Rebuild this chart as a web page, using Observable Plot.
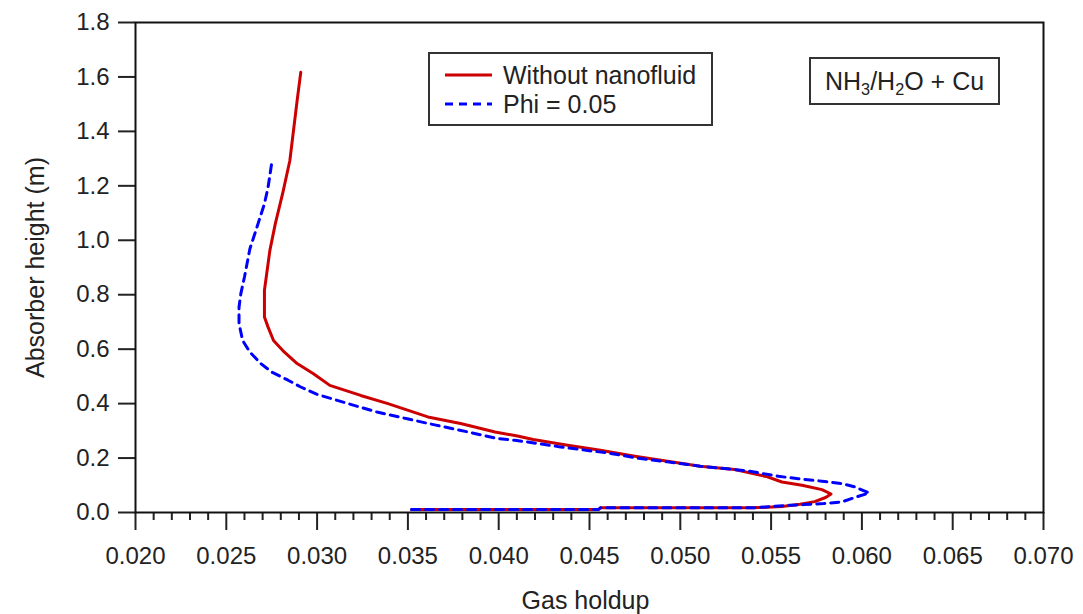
<!DOCTYPE html>
<html>
<head>
<meta charset="utf-8">
<script src="https://cdn.jsdelivr.net/npm/d3@7"></script>
<script src="https://cdn.jsdelivr.net/npm/@observablehq/plot@0.6"></script>
<style>
  html, body { margin: 0; padding: 0; background: #fff; }
  #wrap { position: relative; width: 1083px; height: 614px; font-family: "Liberation Sans", Arial, sans-serif; color: #222; }
  .box { position: absolute; border: 2px solid #333; background: #fff; box-sizing: border-box; }
  .entry { position: absolute; font-size: 25px; line-height: 1; white-space: nowrap; }
  sub { font-size: 65%; vertical-align: -0.3em; line-height: 0; }
</style>
</head>
<body>
<div id="wrap"></div>
<script>
// ---- data ----
const seriesNames = ["Without nanofluid", "Phi = 0.05"];

const redHoldup = [0.0352, 0.0455, 0.0456, 0.0540, 0.0556, 0.0566, 0.0574, 0.0580, 0.0583, 0.0578, 0.0567, 0.0556, 0.0548, 0.0530, 0.0511, 0.0493, 0.0475, 0.0456, 0.0438, 0.0419, 0.0411, 0.0398, 0.0379, 0.0361, 0.0339, 0.0324, 0.0307, 0.0298, 0.0289, 0.0282, 0.0276, 0.0273, 0.0271, 0.0271, 0.0272, 0.0274, 0.0277, 0.0281, 0.0285, 0.0289, 0.0291];
const redHeight = [0.011, 0.011, 0.017, 0.017, 0.022, 0.030, 0.040, 0.055, 0.068, 0.084, 0.100, 0.112, 0.131, 0.158, 0.170, 0.188, 0.207, 0.229, 0.247, 0.268, 0.280, 0.296, 0.327, 0.351, 0.400, 0.430, 0.467, 0.510, 0.547, 0.589, 0.632, 0.681, 0.718, 0.816, 0.865, 0.963, 1.061, 1.171, 1.293, 1.513, 1.617];

const blueHoldup = [0.0352, 0.0455, 0.0456, 0.0540, 0.0561, 0.0568, 0.0579, 0.0589, 0.0597, 0.0604, 0.0596, 0.0589, 0.0578, 0.0565, 0.0554, 0.0537, 0.0511, 0.0493, 0.0478, 0.0460, 0.0451, 0.0434, 0.0416, 0.0409, 0.0399, 0.0383, 0.0366, 0.0349, 0.0333, 0.0316, 0.0300, 0.0291, 0.0284, 0.0275, 0.0269, 0.0263, 0.0259, 0.0257, 0.0257, 0.0258, 0.0260, 0.0263, 0.0266, 0.0271, 0.0273, 0.0275];
const blueHeight = [0.011, 0.011, 0.017, 0.017, 0.027, 0.029, 0.033, 0.039, 0.057, 0.072, 0.094, 0.106, 0.115, 0.124, 0.133, 0.153, 0.170, 0.186, 0.198, 0.219, 0.226, 0.241, 0.259, 0.265, 0.272, 0.296, 0.320, 0.345, 0.369, 0.402, 0.434, 0.461, 0.486, 0.516, 0.547, 0.589, 0.632, 0.694, 0.754, 0.804, 0.865, 0.969, 1.030, 1.134, 1.195, 1.283];

const xMajorTicks = [0.020, 0.025, 0.030, 0.035, 0.040, 0.045, 0.050, 0.055, 0.060, 0.065, 0.070];
const xMinorTicks = [0.021, 0.022, 0.023, 0.024, 0.026, 0.027, 0.028, 0.029, 0.031, 0.032, 0.033, 0.034, 0.036, 0.037, 0.038, 0.039, 0.041, 0.042, 0.043, 0.044, 0.046, 0.047, 0.048, 0.049, 0.051, 0.052, 0.053, 0.054, 0.056, 0.057, 0.058, 0.059, 0.061, 0.062, 0.063, 0.064, 0.066, 0.067, 0.068, 0.069];
const yTicks = [0.0, 0.2, 0.4, 0.6, 0.8, 1.0, 1.2, 1.4, 1.6, 1.8];

const xLabel = "Gas holdup";
const yLabel = "Absorber height (m)";

// ---- build tables ----
const redData = redHoldup.map((x, i) => ({x, y: redHeight[i]}));
const blueData = blueHoldup.map((x, i) => ({x, y: blueHeight[i]}));

const RED = "#cc0000", BLUE = "#0000ff";

const chart = Plot.plot({
  width: 1083,
  height: 614,
  marginLeft: 135,
  marginRight: 40,
  marginTop: 22,
  marginBottom: 102,
  style: {fontFamily: "'Liberation Sans', Arial, sans-serif", fontSize: "24px", color: "#222", background: "#fff"},
  x: {domain: [0.020, 0.070]},
  y: {domain: [0, 1.8]},
  marks: [
    Plot.axisX({ticks: xMinorTicks, tickSize: 8, tickFormat: () => "", strokeWidth: 2, label: null}),
    Plot.axisX({ticks: xMajorTicks, tickSize: 18, tickPadding: 16, tickFormat: d3.format(".3f"), strokeWidth: 2, label: null, fontSize: 24}),
    Plot.axisY({ticks: yTicks, tickSize: 17, tickPadding: 9, tickFormat: d3.format(".1f"), strokeWidth: 2, label: null, fontSize: 24}),
    Plot.line(redData, {x: "x", y: "y", stroke: RED, strokeWidth: 3}),
    Plot.line(blueData, {x: "x", y: "y", stroke: BLUE, strokeWidth: 3, strokeDasharray: "8,6"}),
    Plot.frame({stroke: "#111", strokeWidth: 2}),
    Plot.text([xLabel], {frameAnchor: "bottom", dx: -4, dy: 96, fontSize: 25, fill: "#222"}),
    Plot.text([yLabel], {frameAnchor: "left", textAnchor: "middle", dx: -100, rotate: -90, fontSize: 25, fill: "#222"})
  ]
});

const wrap = document.getElementById("wrap");
wrap.appendChild(chart);

// legend box
const legend = document.createElement("div");
legend.className = "box";
Object.assign(legend.style, {left: "428px", top: "52px", width: "285px", height: "74px"});
legend.innerHTML = `
  <svg width="60" height="70" style="position:absolute;left:12px;top:0px">
    <line x1="3" x2="50" y1="21" y2="21" stroke="${RED}" stroke-width="3"/>
    <line x1="3" x2="50" y1="50" y2="50" stroke="${BLUE}" stroke-width="3" stroke-dasharray="8,6"/>
  </svg>
  <div class="entry" style="left:73px;top:9px">${seriesNames[0]}</div>
  <div class="entry" style="left:73px;top:38px">${seriesNames[1]}</div>`;
wrap.appendChild(legend);

// annotation box
const note = document.createElement("div");
note.className = "box";
Object.assign(note.style, {left: "809px", top: "57px", width: "191px", height: "48px"});
note.innerHTML = `<div class="entry" style="left:14px;top:10px">NH<sub>3</sub>/H<sub>2</sub>O + Cu</div>`;
wrap.appendChild(note);
</script>
</body>
</html>
